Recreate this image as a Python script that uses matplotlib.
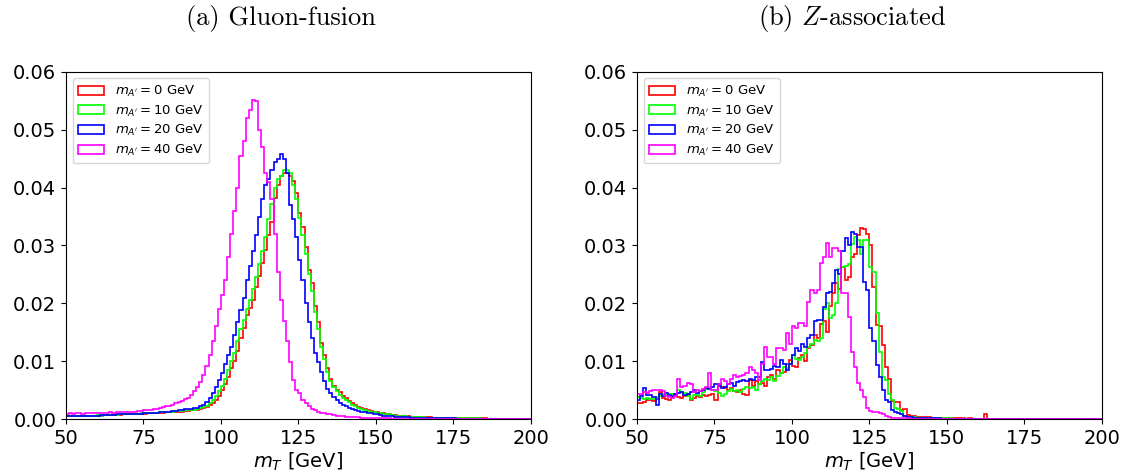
import matplotlib
matplotlib.use("Agg")
import matplotlib.pyplot as plt
import numpy as np

# bin contents in units of 1e-4, 1 GeV bins from 50 to 200 GeV
edges = np.arange(50, 201)
labels = [r"$m_{A'} = 0$ GeV", r"$m_{A'} = 10$ GeV", r"$m_{A'} = 20$ GeV", r"$m_{A'} = 40$ GeV"]
colors = ["red", "lime", "blue", "magenta"]

gf_m0 = [5, 5, 5, 5, 5, 5, 6, 6, 6, 6,
         6, 6, 7, 7, 7, 7, 7, 7, 8, 8,
         8, 8, 9, 9, 9, 9, 10, 10, 10, 11,
         11, 11, 12, 12, 12, 13, 13, 13, 14, 14,
         15, 16, 16, 18, 19, 21, 24, 28, 33, 40,
         50, 60, 72, 88, 100, 118, 140, 158, 180, 192,
         205, 228, 248, 270, 292, 318, 340, 382, 405, 420,
         425, 426, 420, 412, 390, 356, 332, 298, 258, 235,
         195, 167, 132, 110, 88, 70, 58, 51, 46, 40,
         36, 32, 27, 24, 21, 19, 17, 15, 14, 13,
         12, 11, 10, 9, 8, 7, 7, 6, 6, 5,
         5, 4, 4, 4, 3, 3, 3, 3, 2, 2,
         2, 2, 2, 2, 1, 1, 1, 1, 1, 1,
         1, 1, 1, 1, 1, 1, 0, 0, 0, 0,
         0, 0, 0, 0, 0, 0, 0, 0, 0, 0]
gf_m10 = [5, 5, 5, 6, 5, 6, 6, 6, 6, 6,
          7, 6, 7, 7, 7, 8, 7, 8, 8, 8,
          9, 8, 9, 9, 10, 10, 10, 11, 11, 11,
          12, 12, 12, 13, 13, 14, 14, 14, 15, 15,
          15, 16, 17, 19, 21, 23, 27, 33, 40, 48,
          58, 70, 85, 100, 115, 135, 155, 172, 190, 205,
          225, 245, 268, 290, 315, 345, 372, 400, 415, 420,
          430, 430, 425, 405, 380, 348, 318, 285, 250, 222,
          185, 155, 125, 103, 82, 66, 55, 48, 42, 37,
          33, 29, 25, 22, 19, 17, 15, 14, 13, 12,
          11, 10, 9, 8, 8, 7, 6, 6, 5, 5,
          4, 4, 4, 3, 3, 3, 2, 2, 2, 2,
          2, 2, 1, 1, 1, 1, 1, 1, 1, 1,
          1, 1, 1, 1, 0, 0, 0, 0, 0, 0,
          0, 0, 0, 0, 0, 0, 0, 0, 0, 0]
gf_m20 = [5, 5, 5, 5, 6, 6, 6, 6, 6, 6,
          6, 7, 7, 7, 7, 7, 8, 8, 8, 8,
          8, 9, 9, 9, 9, 10, 10, 10, 11, 11,
          12, 12, 13, 13, 14, 14, 15, 16, 17, 18,
          18, 19, 20, 22, 25, 30, 36, 45, 55, 68,
          80, 95, 110, 125, 145, 168, 188, 210, 240, 265,
          290, 318, 350, 380, 405, 415, 430, 445, 450, 458,
          450, 425, 370, 345, 315, 275, 240, 200, 168, 140,
          115, 98, 82, 65, 52, 45, 39, 33, 28, 25,
          22, 20, 18, 16, 14, 13, 12, 11, 10, 9,
          8, 7, 6, 6, 5, 5, 4, 4, 3, 3,
          3, 2, 2, 2, 2, 2, 1, 1, 1, 1,
          1, 1, 1, 1, 1, 1, 0, 0, 0, 0,
          0, 0, 0, 0, 0, 0, 0, 0, 0, 0,
          0, 0, 0, 0, 0, 0, 0, 0, 0, 0]
gf_m40 = [8, 10, 9, 10, 10, 9, 10, 11, 10, 10,
          11, 10, 11, 11, 12, 11, 12, 12, 12, 13,
          12, 13, 13, 14, 14, 15, 15, 16, 17, 18,
          20, 21, 22, 23, 25, 27, 29, 31, 34, 37,
          42, 48, 55, 64, 76, 92, 110, 135, 160, 190,
          215, 240, 280, 320, 360, 400, 455, 480, 520, 535,
          552, 550, 500, 470, 425, 410, 380, 320, 255, 205,
          170, 135, 98, 68, 50, 45, 33, 28, 22, 18,
          15, 13, 11, 10, 9, 8, 7, 6, 5, 5,
          4, 4, 3, 3, 3, 2, 2, 2, 1, 1,
          1, 1, 1, 1, 1, 0, 0, 0, 0, 0,
          0, 0, 0, 0, 0, 0, 0, 0, 0, 0,
          0, 0, 0, 0, 0, 0, 0, 0, 0, 0,
          0, 0, 0, 0, 0, 0, 0, 0, 0, 0,
          0, 0, 0, 0, 0, 0, 0, 0, 0, 0]

za_m0 = [28, 27, 30, 33, 33, 32, 35, 47, 36, 34,
         33, 38, 40, 39, 37, 40, 42, 33, 36, 40,
         38, 42, 40, 41, 44, 33, 60, 55, 53, 50,
         54, 48, 47, 50, 44, 42, 67, 58, 66, 60,
         62, 58, 72, 76, 70, 85, 80, 82, 95, 102,
         92, 90, 105, 110, 100, 122, 128, 145, 140, 165,
         170, 150, 195, 218, 235, 225, 263, 241, 245, 280,
         286, 318, 330, 328, 320, 300, 229, 163, 160, 128,
         90, 69, 32, 30, 30, 16, 17, 7, 6, 5,
         4, 4, 3, 3, 3, 2, 2, 2, 2, 1,
         1, 1, 1, 1, 1, 1, 0, 1, 0, 0,
         0, 0, 8, 0, 0, 0, 0, 0, 0, 0,
         0, 0, 0, 0, 0, 0, 0, 0, 0, 0,
         0, 0, 0, 0, 0, 0, 0, 0, 0, 0,
         0, 0, 0, 0, 0, 0, 0, 0, 0, 0]
za_m10 = [39, 37, 35, 36, 34, 35, 38, 40, 44, 42,
          44, 43, 44, 50, 47, 45, 40, 35, 42, 44,
          40, 46, 52, 56, 50, 48, 45, 40, 44, 48,
          52, 48, 50, 46, 52, 55, 53, 55, 50, 60,
          65, 70, 68, 72, 66, 74, 80, 90, 88, 96,
          110, 104, 102, 108, 114, 125, 130, 137, 135, 140,
          190, 200, 175, 180, 200, 260, 262, 265, 268, 303,
          315, 310, 285, 310, 310, 262, 255, 183, 116, 72,
          68, 44, 33, 20, 18, 14, 6, 4, 3, 3,
          2, 2, 2, 1, 1, 1, 1, 1, 1, 1,
          1, 1, 0, 0, 0, 0, 0, 0, 0, 0,
          0, 0, 0, 0, 0, 0, 0, 0, 0, 0,
          0, 0, 0, 0, 0, 0, 0, 0, 0, 0,
          0, 0, 0, 0, 0, 0, 0, 0, 0, 0,
          0, 0, 0, 0, 0, 0, 0, 0, 0, 0]
za_m20 = [33, 40, 53, 41, 41, 38, 24, 44, 40, 45,
          42, 40, 43, 45, 46, 42, 44, 47, 50, 45,
          48, 50, 53, 52, 55, 60, 58, 54, 56, 60,
          62, 58, 64, 66, 67, 65, 70, 68, 72, 73,
          99, 85, 84, 86, 92, 90, 102, 95, 85, 95,
          110, 122, 118, 130, 125, 140, 145, 170, 172, 171,
          194, 218, 220, 235, 258, 250, 290, 313, 300, 324,
          320, 298, 298, 237, 223, 157, 135, 93, 73, 50,
          33, 30, 16, 12, 10, 8, 5, 4, 3, 2,
          2, 2, 1, 1, 1, 1, 1, 1, 0, 0,
          0, 0, 0, 0, 0, 0, 0, 0, 0, 0,
          0, 0, 0, 0, 0, 0, 0, 0, 0, 0,
          0, 0, 0, 0, 0, 0, 0, 0, 0, 0,
          0, 0, 0, 0, 0, 0, 0, 0, 0, 0,
          0, 0, 0, 0, 0, 0, 0, 0, 0, 0]
za_m40 = [44, 44, 46, 45, 48, 50, 50, 50, 49, 40,
          38, 36, 40, 70, 56, 58, 62, 60, 47, 50,
          48, 52, 55, 79, 50, 50, 60, 70, 65, 60,
          70, 76, 72, 75, 76, 80, 90, 85, 79, 67,
          95, 125, 108, 108, 96, 123, 123, 119, 149, 130,
          160, 158, 166, 166, 160, 203, 223, 218, 223, 270,
          280, 304, 280, 296, 296, 290, 218, 218, 177, 116,
          90, 62, 50, 39, 19, 14, 12, 12, 10, 8,
          6, 3, 2, 2, 1, 1, 1, 1, 0, 0,
          0, 0, 0, 0, 0, 0, 0, 0, 0, 0,
          0, 0, 0, 0, 0, 0, 0, 0, 0, 0,
          0, 0, 0, 0, 0, 0, 0, 0, 0, 0,
          0, 0, 0, 0, 0, 0, 0, 0, 0, 0,
          0, 0, 0, 0, 0, 0, 0, 0, 0, 0,
          0, 0, 0, 0, 0, 0, 0, 0, 0, 0]

panels = [
    ("(a) Gluon-fusion", [gf_m0, gf_m10, gf_m20, gf_m40]),
    ("(b) $Z$-associated", [za_m0, za_m10, za_m20, za_m40]),
]

fig = plt.figure(figsize=(11.28, 4.73), dpi=100)
lefts = [0.0585, 0.5647]

for left, (title, series) in zip(lefts, panels):
    ax = fig.add_axes([left, 0.114, 0.412, 0.734])
    for vals, col, lab in zip(series, colors, labels):
        w = np.array(vals) * 1e-4
        ax.hist(edges[:-1], bins=edges, weights=w, histtype="step",
                color=col, linewidth=1.2, label=lab)
    ax.set_xlim(50, 200)
    ax.set_ylim(0, 0.06)
    ax.set_xticks(np.arange(50, 201, 25))
    ax.set_yticks(np.arange(0, 0.061, 0.01))
    ax.yaxis.set_major_formatter(matplotlib.ticker.FormatStrFormatter("%.2f"))
    ax.tick_params(labelsize=14)
    ax.set_xlabel(r"$m_T$ [GeV]", fontsize=14, labelpad=2)
    ax.set_title(title, fontfamily="cmr10", math_fontfamily="cm", fontsize=19,
                 pad=34, x=0.462)
    ax.legend(loc="upper left", fontsize=9.5, labelspacing=0.35)

fig.savefig("out.png", dpi=100)
